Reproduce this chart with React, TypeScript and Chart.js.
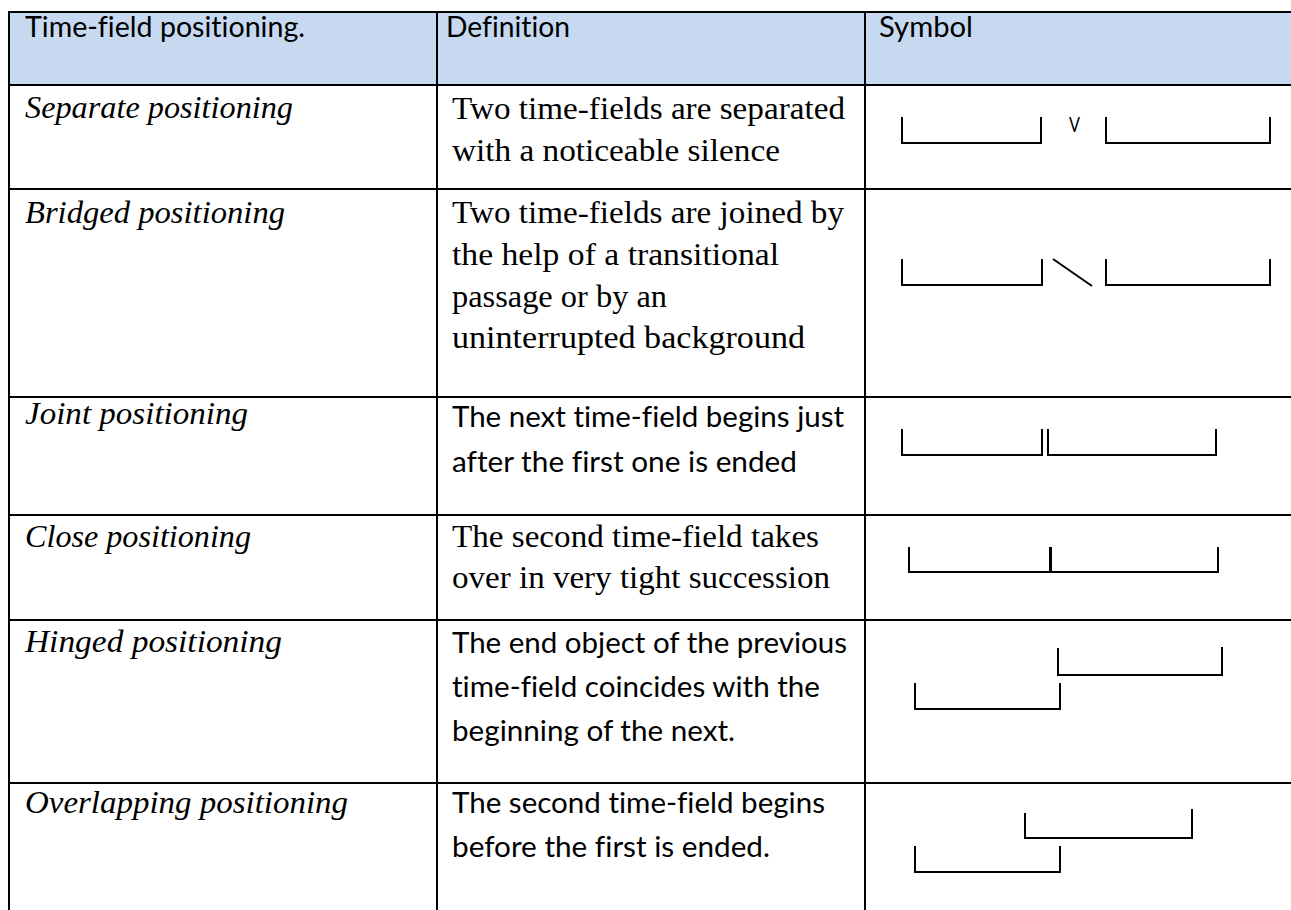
import React, { useEffect, useRef } from "react";
import { Chart, registerables } from "chart.js";

Chart.register(...registerables);

// ---------- Table content ----------
const headers = ["Time-field positioning.", "Definition", "Symbol"];
const positionings = [
  "Separate positioning",
  "Bridged positioning",
  "Joint positioning",
  "Close positioning",
  "Hinged positioning",
  "Overlapping positioning",
];
const definitions: string[][] = [
  ["Two time-fields are separated", "with a noticeable silence"],
  ["Two time-fields are joined by", "the help of a transitional", "passage or by an", "uninterrupted background"],
  ["The next time-field begins just", "after the first one is ended"],
  ["The second time-field takes", "over in very tight succession"],
  ["The end object of the previous", "time-field coincides with the", "beginning of the next."],
  ["The second time-field begins", "before the first is ended."],
];
const definitionIsSerif = [true, true, false, true, false, false];
const separatorMark = "V";

// ---------- Symbol data: one bracket per time-field ----------
const fieldStart = [902, 1106, 902, 1106, 902, 1048, 909, 1051, 1058, 915, 1025, 915];
const fieldEnd = [1041, 1270, 1042, 1270, 1042, 1216, 1050, 1218, 1222, 1060, 1192, 1060];
const fieldStartTop = [117, 117, 259, 259, 429, 429, 547, 547, 648, 683, 813, 846];
const fieldEndTop = [117, 117, 259, 259, 429, 429, 547, 547, 647, 683, 809, 846];
const fieldBase = [143, 143, 285, 285, 455, 455, 572, 572, 675, 709, 838, 872];
// transitional passage (bridged positioning)
const bridgeX = [1053, 1092];
const bridgeY = [259, 286];

// ---------- Layout ----------
const W = 1291;
const H = 910;
const tableLeft = 9;
const colLines = [437, 865];
const rowLines = [12, 85, 189, 397, 515, 620, 783];
const headerX = [25, 446, 879];
const headerWidths = [280, 124, 94];
const headerBaseline = 37;
const col1X = 25;
const col2X = 452;
const col1Baselines = [118, 223, 424, 547, 652, 813];
const col1Widths = [268, 260, 223, 226, 257, 323];
const defBaselines = [[119, 161], [223, 265, 307, 348], [427, 472], [547, 588], [653, 697, 741], [813, 857]];
const defWidths = [[393, 328], [392, 327, 215, 353], [392, 345], [367, 378], [395, 368, 283], [373, 318]];

const SANS = "Lato, 'Open Sans', sans-serif";
const SERIF = "'Liberation Serif', 'DejaVu Serif', serif";
const noLig: React.CSSProperties = { fontVariantLigatures: "none" };

export default function App() {
  const canvasRef = useRef<HTMLCanvasElement>(null);

  useEffect(() => {
    const datasets: any[] = fieldStart.map((s, i) => ({
      data: [
        { x: s, y: fieldStartTop[i] },
        { x: s, y: fieldBase[i] },
        { x: fieldEnd[i], y: fieldBase[i] },
        { x: fieldEnd[i], y: fieldEndTop[i] },
      ],
      showLine: true,
      borderColor: "#000000",
      borderWidth: 2,
      pointRadius: 0,
      borderJoinStyle: "miter",
      borderCapStyle: "butt",
      tension: 0,
      fill: false,
    }));
    datasets.push({
      data: bridgeX.map((x, i) => ({ x, y: bridgeY[i] })),
      showLine: true,
      borderColor: "#000000",
      borderWidth: 2,
      pointRadius: 0,
      tension: 0,
      fill: false,
    });
    const chart = new Chart(canvasRef.current!, {
      type: "scatter",
      data: { datasets },
      options: {
        animation: false,
        responsive: false,
        devicePixelRatio: 1,
        events: [],
        layout: { padding: 0 },
        plugins: { legend: { display: false }, tooltip: { enabled: false } },
        scales: {
          x: { type: "linear", display: false, min: 0, max: W },
          y: { type: "linear", display: false, min: 0, max: H, reverse: true },
        },
      },
    });
    return () => chart.destroy();
  }, []);

  return (
    <div style={{ position: "absolute", left: 0, top: 0, width: W, height: H, overflow: "hidden", background: "#ffffff" }}>
      <svg width={W} height={H} style={{ position: "absolute", left: 0, top: 0 }}>
        <rect x={tableLeft + 1} y={rowLines[0] + 1} width={W - tableLeft - 1} height={rowLines[1] - rowLines[0] - 2} fill="#c6d9f1" />
        {rowLines.map((y, i) => (
          <line key={"h" + i} x1={tableLeft - 1} x2={W} y1={y} y2={y} stroke="#000" strokeWidth={2} shapeRendering="crispEdges" />
        ))}
        {[tableLeft, ...colLines].map((x, i) => (
          <line key={"v" + i} x1={x} x2={x} y1={rowLines[0] - 1} y2={H} stroke="#000" strokeWidth={2} shapeRendering="crispEdges" />
        ))}
        {headers.map((t, i) => (
          <text key={"hd" + i} x={headerX[i]} y={headerBaseline} fontFamily={SANS} fontSize={28} fill="#000" style={noLig}
            textLength={headerWidths[i]} lengthAdjust="spacingAndGlyphs">{t}</text>
        ))}
        {positionings.map((t, i) => (
          <text key={"p" + i} x={col1X} y={col1Baselines[i]} fontFamily={SERIF} fontStyle="italic" fontSize={32} fill="#000" style={noLig}
            textLength={col1Widths[i]} lengthAdjust="spacingAndGlyphs">{t}</text>
        ))}
        {definitions.map((lines, r) =>
          lines.map((t, j) => (
            <text key={"d" + r + "-" + j} x={col2X} y={defBaselines[r][j]} style={noLig}
              fontFamily={definitionIsSerif[r] ? SERIF : SANS} fontSize={definitionIsSerif[r] ? 32 : 28} fill="#000"
              textLength={defWidths[r][j]} lengthAdjust="spacingAndGlyphs">{t}</text>
          ))
        )}
        <text x={1069} y={132} fontFamily={SANS} fontSize={22} fill="#000" textLength={11} lengthAdjust="spacingAndGlyphs">{separatorMark}</text>
      </svg>
      <canvas ref={canvasRef} width={W} height={H} style={{ position: "absolute", left: 0, top: 0, pointerEvents: "none" }} />
    </div>
  );
}
